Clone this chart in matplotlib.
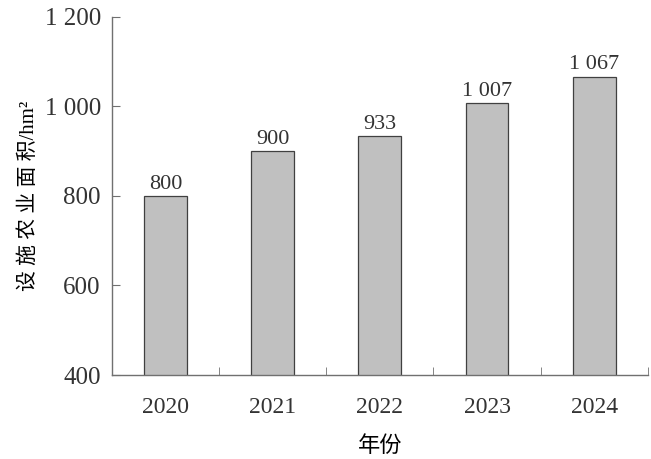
import matplotlib
matplotlib.use('Agg')
import matplotlib.pyplot as plt
import numpy as np

years = ['2020', '2021', '2022', '2023', '2024']
area = [800, 900, 933, 1007, 1067]
yticks = [400, 600, 800, 1000, 1200]


def fmt(v):
    # thousands separated by a space, like the source
    return '{:,}'.format(v).replace(',', ' ')


plt.rcParams['font.family'] = ['Liberation Serif', 'Noto Sans CJK SC']
plt.rcParams['text.color'] = '#333333'

fig = plt.figure(figsize=(6.51, 4.59), dpi=100)
ax = fig.add_axes([0.172, 0.183, 0.823, 0.780])

x = np.arange(len(years))
bars = ax.bar(x, area, width=0.4, color='#c0c0c0', edgecolor='#404040', linewidth=0.9)
for xi, v in zip(x, area):
    ax.text(xi, v + 5, fmt(v), ha='center', va='bottom', fontsize=16, color='#333333')

ax.set_xlim(-0.5, len(years) - 0.5)
ax.set_ylim(400, 1200)
ax.set_yticks(yticks)
ax.set_yticklabels([fmt(t) for t in yticks], fontsize=18, color='#333333')
ax.set_xticks(x)
ax.set_xticklabels(years, fontsize=17, color='#333333')
ax.tick_params(axis='x', length=0, pad=16)
ax.set_xticks(np.arange(len(years)) + 0.5, minor=True)
ax.tick_params(axis='x', which='minor', direction='in', length=6, color='#707070')
ax.tick_params(axis='y', direction='in', length=6, color='#707070', pad=8)

for s in ['top', 'right']:
    ax.spines[s].set_visible(False)
for s in ['left', 'bottom']:
    ax.spines[s].set_color('#707070')
    ax.spines[s].set_linewidth(1.0)

ax.set_ylabel('设 施 农 业 面 积/hm²', fontsize=15, labelpad=4)
ax.set_xlabel('年份', fontsize=16, labelpad=13)

fig.savefig('out.png', dpi=100)
